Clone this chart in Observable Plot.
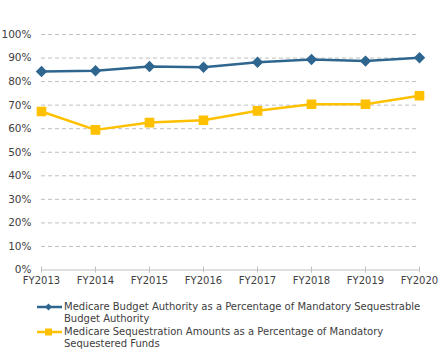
<!DOCTYPE html>
<html>
<head>
<meta charset="utf-8">
<script src="https://cdn.jsdelivr.net/npm/d3@7"></script>
<script src="https://cdn.jsdelivr.net/npm/@observablehq/plot@0.6"></script>
<style>
  html, body { margin: 0; padding: 0; background: #fff; }
  body { width: 445px; height: 364px; overflow: hidden; font-family: "DejaVu Sans", sans-serif; }
  #legend { position: relative; margin-top: 7px; font-size: 10px; color: #404040; line-height: 12px; }
  .entry { position: relative; padding-left: 64px; margin-bottom: 0.5px; }
  .entry svg { position: absolute; left: 36px; top: 0; }
</style>
</head>
<body>
<div id="chart"></div>
<div id="legend"></div>
<script>
const years = ["FY2013","FY2014","FY2015","FY2016","FY2017","FY2018","FY2019","FY2020"];
const budgetShare = [84.3, 84.6, 86.4, 86.1, 88.2, 89.4, 88.7, 90.1];
const sequestrationShare = [67.3, 59.5, 62.6, 63.6, 67.6, 70.4, 70.4, 74.0];
const seriesNames = [
  "Medicare Budget Authority as a Percentage of Mandatory Sequestrable Budget Authority",
  "Medicare Sequestration Amounts as a Percentage of Mandatory Sequestered Funds"
];
const seriesLines = [
  ["Medicare Budget Authority as a Percentage of Mandatory Sequestrable", "Budget Authority"],
  ["Medicare Sequestration Amounts as a Percentage of Mandatory", "Sequestered Funds"]
];
const colors = ["#2f6690", "#ffc000"];
const yTicks = [0,10,20,30,40,50,60,70,80,90,100];

const data = [];
years.forEach((y, i) => {
  data.push({year: y, value: budgetShare[i], series: seriesNames[0]});
  data.push({year: y, value: sequestrationShare[i], series: seriesNames[1]});
});
const s0 = data.filter(d => d.series === seriesNames[0]);
const s1 = data.filter(d => d.series === seriesNames[1]);

const plot = Plot.plot({
  width: 445,
  height: 294,
  marginLeft: 41,
  marginRight: 26,
  marginTop: 34,
  marginBottom: 24.5,
  style: {fontFamily: "DejaVu Sans, sans-serif", fontSize: "10px", color: "#404040", background: "#fff"},
  x: {type: "point", domain: years, padding: 0, label: null},
  y: {domain: [0, 100], label: null},
  marks: [
    Plot.gridY(yTicks.filter(t => t > 0), {stroke: "#bfbfbf", strokeOpacity: 1, strokeDasharray: "4,3"}),
    Plot.ruleY([0], {stroke: "#bfbfbf", strokeWidth: 1}),
    Plot.axisX({tickSize: 6, dy: -3, tickPadding: 4, stroke: "#bfbfbf", fill: "#404040", fontSize: 10, label: null}),
    Plot.axisY(yTicks, {tickSize: 0, tickPadding: 10, tickFormat: d => d + "%", fill: "#404040", fontSize: 10.5, label: null}),
    Plot.line(s0, {x: "year", y: "value", stroke: colors[0], strokeWidth: 2.5}),
    Plot.line(s1, {x: "year", y: "value", stroke: colors[1], strokeWidth: 2.5}),
    Plot.dot(s0, {x: "year", y: "value", symbol: "diamond2", r: 4.2, fill: colors[0], stroke: colors[0]}),
    Plot.dot(s1, {x: "year", y: "value", symbol: "square", r: 4.6, fill: colors[1], stroke: colors[1]})
  ]
});
document.getElementById("chart").appendChild(plot);

const legend = document.getElementById("legend");
seriesLines.forEach((lines, i) => {
  const e = document.createElement("div");
  e.className = "entry";
  const sym = i === 0
    ? `<polygon points="12.5,2.5 16,6 12.5,9.5 9,6" fill="${colors[0]}"/>`
    : `<rect x="9" y="2.5" width="7" height="7" fill="${colors[1]}"/>`;
  e.innerHTML = `<svg width="27" height="12"><line x1="1" x2="26" y1="6" y2="6" stroke="${colors[i]}" stroke-width="2.5"/>${sym}</svg>` +
    lines.map(l => `<div>${l}</div>`).join("");
  legend.appendChild(e);
});
</script>
</body>
</html>
